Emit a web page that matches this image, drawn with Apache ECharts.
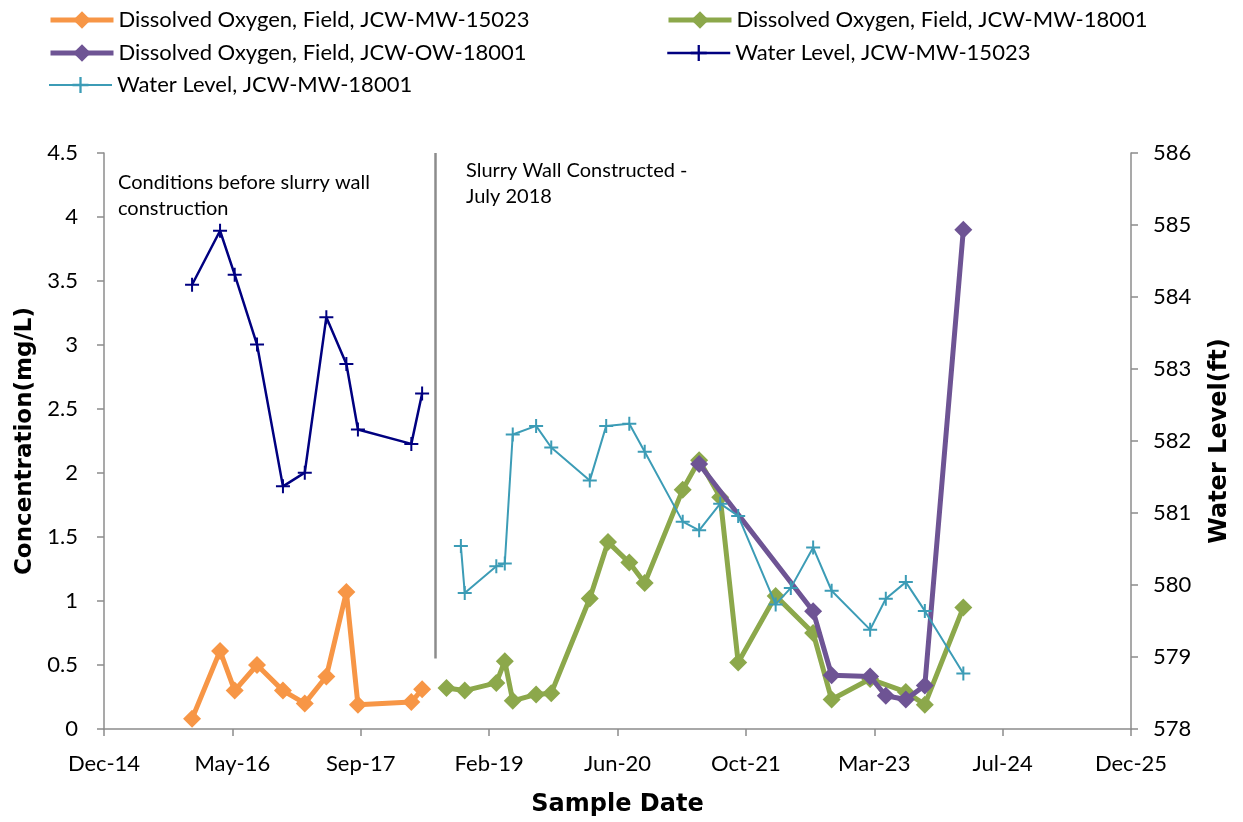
<!DOCTYPE html>
<html>
<head>
<meta charset="utf-8">
<script src="https://cdn.jsdelivr.net/npm/echarts@6/dist/echarts.min.js"></script>
<style>
html,body{margin:0;padding:0;background:#fff;}
#chart{width:1243px;height:822px;}
</style>
</head>
<body>
<div id="chart"></div>
<script>
// ---- data ----
const seriesNames = [
  'Dissolved Oxygen, Field, JCW-MW-15023',
  'Dissolved Oxygen, Field, JCW-MW-18001',
  'Dissolved Oxygen, Field, JCW-OW-18001',
  'Water Level, JCW-MW-15023',
  'Water Level, JCW-MW-18001'
];

const datesMW15023 = ['2015-12-05','2016-03-23','2016-05-19','2016-08-14','2016-11-23','2017-02-16','2017-05-11','2017-07-28','2017-09-11','2018-04-07','2018-05-19'];
const doMW15023 = [0.08, 0.61, 0.30, 0.50, 0.30, 0.20, 0.41, 1.07, 0.19, 0.21, 0.31];
const wlMW15023 = [584.17, 584.92, 584.31, 583.34, 581.37, 581.56, 583.72, 583.07, 582.16, 581.96, 582.66];

const datesDoMW18001 = ['2018-08-22','2018-11-01','2019-03-04','2019-04-06','2019-05-07','2019-08-06','2019-10-04','2020-03-02','2020-05-12','2020-08-03','2020-10-02','2021-02-27','2021-05-02','2021-07-23','2021-10-01','2022-02-24','2022-07-20','2022-09-30','2023-02-27','2023-07-16','2023-09-28','2024-02-25'];
const doMW18001 = [0.32, 0.30, 0.36, 0.53, 0.22, 0.27, 0.28, 1.02, 1.46, 1.30, 1.14, 1.87, 2.10, 1.81, 0.52, 1.04, 0.75, 0.23, 0.39, 0.29, 0.19, 0.95];

const datesDoOW18001 = ['2021-05-02','2022-07-20','2022-09-30','2023-02-27','2023-04-29','2023-07-16','2023-09-28','2024-02-25'];
const doOW18001 = [2.07, 0.92, 0.42, 0.41, 0.26, 0.23, 0.34, 3.90];

const datesWlMW18001 = ['2018-10-17','2018-11-01','2019-03-04','2019-04-06','2019-05-07','2019-08-06','2019-10-04','2020-03-02','2020-05-05','2020-08-03','2020-10-02','2021-02-27','2021-05-02','2021-07-23','2021-10-01','2022-02-24','2022-04-24','2022-07-20','2022-09-30','2023-02-27','2023-04-29','2023-07-16','2023-09-28','2024-02-25'];
const wlMW18001 = [580.54, 579.89, 580.26, 580.30, 582.09, 582.21, 581.91, 581.45, 582.21, 582.24, 581.85, 580.88, 580.76, 581.13, 580.96, 579.73, 579.96, 580.52, 579.92, 579.38, 579.81, 580.04, 579.64, 578.77];

const slurryWallDate = '2018-07-11';
const xTickStart = 42000, xTickEnd = 46000, xTickStep = 500; // Excel date serials
const monthNames = ['Jan','Feb','Mar','Apr','May','Jun','Jul','Aug','Sep','Oct','Nov','Dec'];

// ---- helpers ----
const EPOCH = Date.UTC(1899, 11, 30);
function toSerial(iso) {
  const [y, m, d] = iso.split('-').map(Number);
  return (Date.UTC(y, m - 1, d) - EPOCH) / 86400000;
}
function serialLabel(v) {
  const dt = new Date(EPOCH + v * 86400000);
  return monthNames[dt.getUTCMonth()] + '-' + String(dt.getUTCFullYear() % 100).padStart(2, '0');
}
function pairs(dates, vals) { return dates.map((d, i) => [toSerial(d), vals[i]]); }

const FONT = 'Lato, "Open Sans", sans-serif';
const TITLE_FONT = '"DejaVu Sans", Verdana, sans-serif';
const AXIS_GRAY = '#8c8c8c';
const PLUS = 'path://M-1,-7 L1,-7 L1,-1 L7,-1 L7,1 L1,1 L1,7 L-1,7 L-1,1 L-7,1 L-7,-1 L-1,-1 Z';

const colors = ['#F79646', '#8CA84B', '#6E5494', '#000080', '#3C9CB6'];
const lineWidths = [5, 5, 5, 2.5, 2];
const legendMarkerSizes = [22, 22, 22, 20, 20];

const chart = echarts.init(document.getElementById('chart'), null, {renderer: 'canvas'});

function doSeries(idx, data) {
  return {
    name: seriesNames[idx], type: 'line', yAxisIndex: 0, data: data,
    symbol: 'diamond', symbolSize: 18, showSymbol: true,
    lineStyle: {width: lineWidths[idx], color: colors[idx]},
    itemStyle: {color: colors[idx]},
    z: 2 + idx, animation: false
  };
}
function wlSeries(idx, data) {
  return {
    name: seriesNames[idx], type: 'line', yAxisIndex: 1, data: data,
    symbol: PLUS, symbolSize: 14, showSymbol: true,
    lineStyle: {width: lineWidths[idx], color: colors[idx]},
    itemStyle: {color: colors[idx]},
    z: 2 + idx, animation: false
  };
}

// legend layout: [series index, left, top]
const legendSlots = [[0, 48, 8], [2, 48, 41], [4, 48, 73], [1, 666, 8], [3, 666, 41]];
function makeLegend(slot) {
  const idx = slot[0];
  return {
    data: [seriesNames[idx]],
    left: slot[1], top: slot[2], padding: 0,
    itemWidth: 63, itemHeight: legendMarkerSizes[idx],
    lineStyle: {width: lineWidths[idx]},
    textStyle: {fontFamily: FONT, fontSize: 22, color: '#000', lineHeight: 24}
  };
}

const slurryX = toSerial(slurryWallDate);

const option = {
  animation: false,
  textStyle: {fontFamily: FONT},
  legend: legendSlots.map(makeLegend),
  grid: {left: 104, right: 112, top: 153, bottom: 92},
  xAxis: {
    type: 'value', min: xTickStart, max: xTickEnd, interval: xTickStep,
    name: 'Sample Date', nameLocation: 'middle', nameGap: 64,
    nameTextStyle: {fontFamily: TITLE_FONT, fontWeight: 'bold', fontSize: 24, color: '#000'},
    axisLine: {show: true, lineStyle: {color: AXIS_GRAY, width: 1.5}},
    axisTick: {show: true, inside: false, length: 7, lineStyle: {color: AXIS_GRAY, width: 1.5}},
    axisLabel: {formatter: serialLabel, fontFamily: FONT, fontSize: 22, color: '#000', margin: 24},
    splitLine: {show: false}
  },
  yAxis: [
    {
      type: 'value', min: 0, max: 4.5, interval: 0.5, position: 'left',
      name: 'Concentration(mg/L)', nameLocation: 'middle', nameGap: 66, nameRotate: 90,
      nameTextStyle: {fontFamily: TITLE_FONT, fontWeight: 'bold', fontSize: 23, color: '#000'},
      axisLine: {show: true, lineStyle: {color: AXIS_GRAY, width: 1.5}},
      axisTick: {show: true, inside: false, length: 7, lineStyle: {color: AXIS_GRAY, width: 1.5}},
      axisLabel: {fontFamily: FONT, fontSize: 22, color: '#000', margin: 26},
      splitLine: {show: false}
    },
    {
      type: 'value', min: 578, max: 586, interval: 1, position: 'right',
      name: 'Water Level(ft)', nameLocation: 'middle', nameGap: 77, nameRotate: 90,
      nameTextStyle: {fontFamily: TITLE_FONT, fontWeight: 'bold', fontSize: 24, color: '#000'},
      axisLine: {show: true, lineStyle: {color: AXIS_GRAY, width: 1.5}},
      axisTick: {show: true, inside: false, length: 7, lineStyle: {color: AXIS_GRAY, width: 1.5}},
      axisLabel: {fontFamily: FONT, fontSize: 22, color: '#000', margin: 22},
      splitLine: {show: false}
    }
  ],
  series: [
    Object.assign(doSeries(0, pairs(datesMW15023, doMW15023)), {
      markLine: {
        silent: true, symbol: 'none', animation: false,
        lineStyle: {color: '#8c8c8c', width: 2.5, type: 'solid'},
        label: {show: false},
        data: [[{coord: [slurryX, 4.5]}, {coord: [slurryX, 0.55]}]]
      }
    }),
    doSeries(1, pairs(datesDoMW18001, doMW18001)),
    doSeries(2, pairs(datesDoOW18001, doOW18001)),
    wlSeries(3, pairs(datesMW15023, wlMW15023)),
    wlSeries(4, pairs(datesWlMW18001, wlMW18001))
  ],
  graphic: [
    {type: 'text', left: 118, top: 170, style: {text: 'Conditions before slurry wall\nconstruction', font: '20px ' + FONT, fill: '#000', lineHeight: 26}},
    {type: 'text', left: 466, top: 158, style: {text: 'Slurry Wall Constructed -\nJuly 2018', font: '20px ' + FONT, fill: '#000', lineHeight: 26}}
  ]
};
chart.setOption(option);
</script>
</body>
</html>
